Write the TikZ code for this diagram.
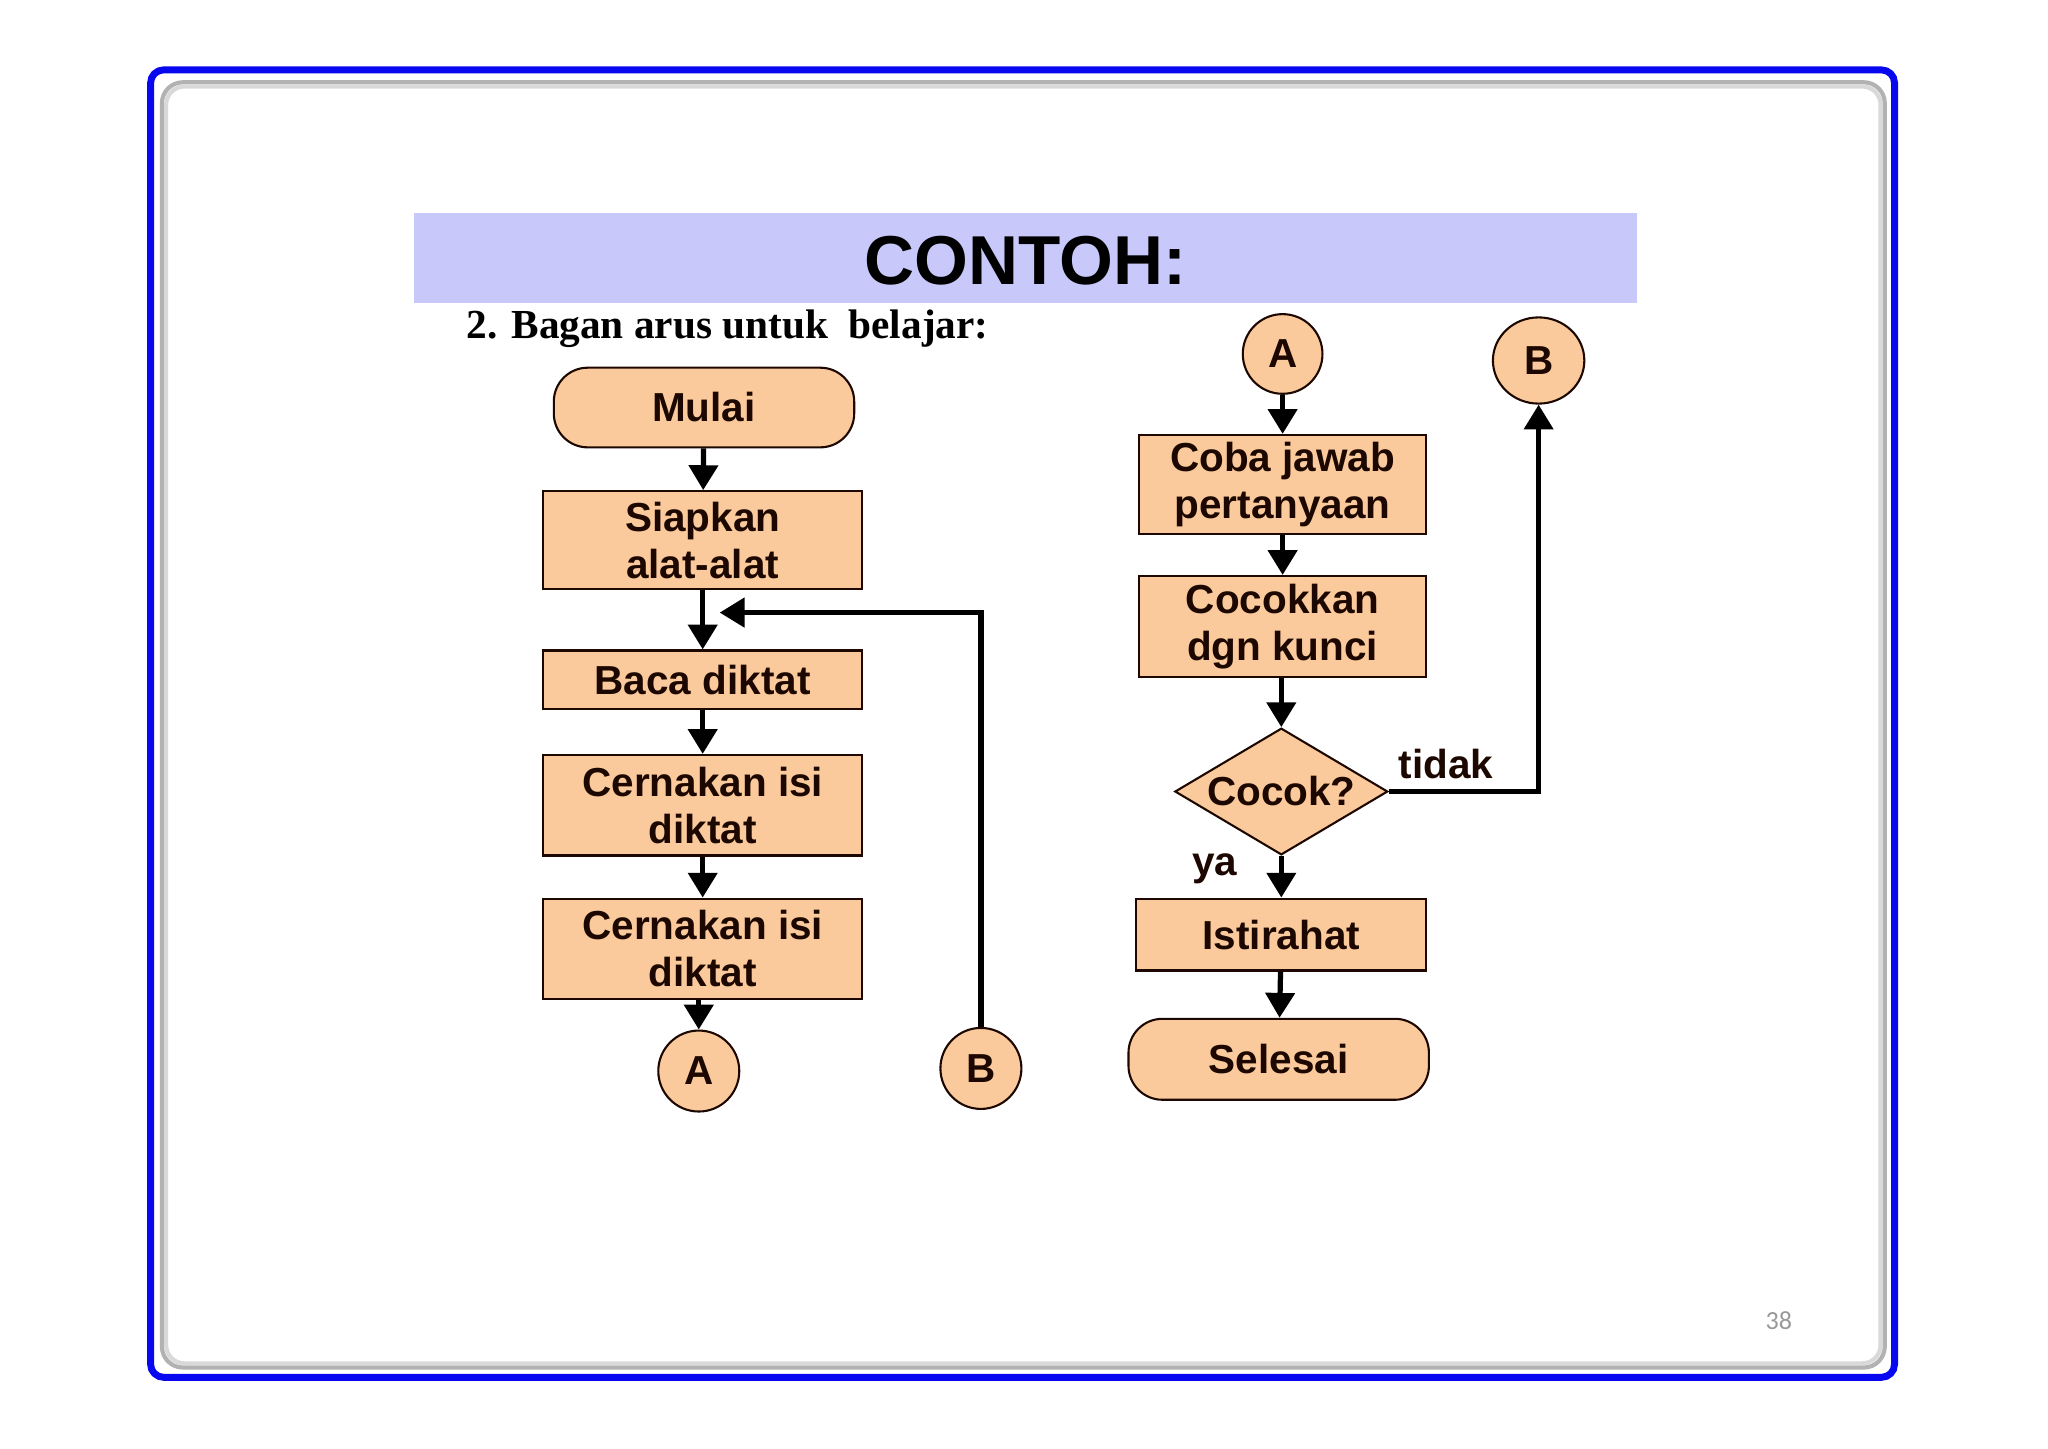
\documentclass[tikz,border=0pt]{standalone}
\usepackage{fontspec}
\setmainfont{Liberation Sans}
\newfontfamily\serifff{Liberation Serif}
\newfontfamily\pagefont{Carlito}
\usetikzlibrary{shapes.geometric,arrows.meta}
\definecolor{peach}{RGB}{250,202,156}
\definecolor{bannercol}{RGB}{200,200,250}
\definecolor{frameblue}{RGB}{8,8,240}
\definecolor{ink}{RGB}{28,8,0}
\tikzset{
  box/.style={draw=ink, line width=0.8pt, fill=peach, text=ink, inner sep=0pt, align=center,
    font=\fontsize{15.5}{18}\selectfont\bfseries},
  procbox/.style={box, rectangle},
  termbox/.style={box, rectangle, rounded corners=13pt},
  connbox/.style={box, circle},
  connell/.style={box, ellipse},
  decbox/.style={box, diamond},
  flow/.style={draw=black, line width=2pt, -{Triangle[width=11pt,length=9.5pt]}},
  lbl/.style={text=ink, inner sep=0pt, font=\fontsize{15.5}{18}\selectfont\bfseries},
}
\begin{document}
\begin{tikzpicture}[x=0.5pt,y=-0.5pt]
\useasboundingbox (0,0) rectangle (1568,1109);
\fill[white] (0,0) rectangle (1568,1109);
% frame
\draw[frameblue, line width=2.65pt, rounded corners=5pt] (115.3,53.5) rectangle (1450.5,1054.5);
\draw[gray!60, line width=1.6pt, rounded corners=8pt] (124,63) rectangle (1443,1047);
\draw[gray!30, line width=1.6pt, rounded corners=7pt] (127.2,66.2) rectangle (1439.8,1043.8);
% banner
\fill[bannercol] (317,163) rectangle (1253,232);
\node[anchor=base, inner sep=0pt, text=black, font=\fontsize{26.5}{30}\selectfont\bfseries] (title) at (785,218) {CONTOH:};
\node[anchor=base west, inner sep=0pt, text=black, font=\fontsize{15.8}{18}\selectfont\serifff\bfseries] (subtitle) at (357,259) {2. Bagan arus untuk\ \ belajar:};
% left column
\node[termbox, minimum width=115pt, minimum height=30.5pt] (mulai) at (539,312) {Mulai};
\node[procbox, minimum width=122pt, minimum height=37.5pt] (siap) at (538,413.5) {Siapkan\\alat-alat};
\node[procbox, minimum width=122pt, minimum height=22.5pt] (baca) at (538,520.5) {Baca diktat};
\node[procbox, minimum width=122pt, minimum height=38.5pt] (cern1) at (538,616.5) {Cernakan isi\\diktat};
\node[procbox, minimum width=122pt, minimum height=38.5pt] (cern2) at (538,726.5) {Cernakan isi\\diktat};
\node[connbox, minimum size=31pt] (a1) at (535,820) {A};
\node[connbox, minimum size=31pt] (b1) at (751,818) {B};
\coordinate (join) at (551,469);
% right column
\node[connbox, minimum size=30.5pt] (a2) at (982,271) {A};
\node[connell, minimum width=35pt, minimum height=33pt] (b2) at (1178,276) {B};
\node[procbox, minimum width=110pt, minimum height=38pt] (coba) at (982,371) {Coba jawab\\pertanyaan};
\node[procbox, minimum width=110pt, minimum height=38.5pt] (cocokkan) at (982,479.5) {Cocokkan\\dgn kunci};
\node[decbox, minimum width=81.5pt, minimum height=48.5pt] (cocok) at (981,606) {};
\node[lbl] (cocoktxt) at (981,606) {Cocok?};
\node[procbox, minimum width=111pt, minimum height=27.5pt] (istirahat) at (981,715.5) {Istirahat};
\node[termbox, minimum width=115pt, minimum height=31pt] (selesai) at (979,811) {Selesai};
\node[lbl] (ya) at (930,665) {ya};
\node[lbl] (tidak) at (1107,585) {tidak};
% connectors
\draw[flow] (mulai) -- (siap);
\draw[flow] (siap) -- (baca);
\draw[flow] (baca) -- (cern1);
\draw[flow] (cern1) -- (cern2);
\draw[flow] (cern2.south -| a1) -- (a1);
\draw[flow] (b1.north) |- (join);
\draw[flow] (a2) -- (a2 |- coba.north);
\draw[flow] (coba.south -| a2) -- (cocokkan.north -| a2);
\draw[flow] (cocokkan.south -| cocok) -- (cocok.north);
\draw[flow] (cocok.south) -- (istirahat.north -| cocok);
\draw[flow] (istirahat) -- (selesai);
\draw[flow] (cocok.east) -| (b2.south);
% page number
\node[text=gray!80, inner sep=0pt, font=\fontsize{10}{12}\selectfont\pagefont] (pagenum) at (1362,1011) {38};
\end{tikzpicture}
\end{document}
